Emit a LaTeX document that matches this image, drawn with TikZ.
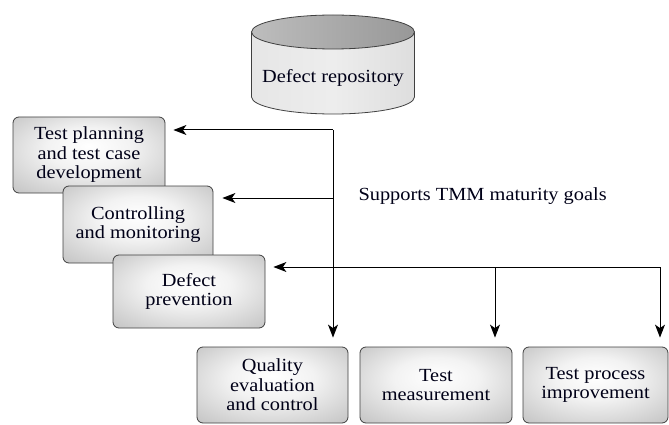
\documentclass[tikz,border=0pt]{standalone}
\usepackage{fontspec}
\setmainfont{Liberation Serif}[FakeStretch=1.1]
\usetikzlibrary{arrows.meta}

% soft glow used inside the process boxes: light centre, grey rim
\pgfdeclareradialshading{boxglow}{\pgfpoint{0bp}{6bp}}{%
  color(0bp)=(white); color(14bp)=(gray!10); color(30bp)=(gray!36);
  color(42bp)=(gray!55); color(50bp)=(gray!64)}
% top face of the repository: light on the left, dark on the right
\pgfdeclarehorizontalshading{lidshade}{100bp}{%
  color(0bp)=(gray!35); color(35bp)=(gray!58); color(100bp)=(gray!95)}
\pgfdeclarehorizontalshading{bodyshade}{100bp}{%
  color(0bp)=(gray!25); color(50bp)=(gray!14); color(100bp)=(gray!38)}

\tikzset{
  txt/.style={font=\fontsize{18.5}{19.5}\selectfont, text=black!85!blue!60!black},
  procbox/.style={txt, draw=black!75, line width=0.8pt, rounded corners=6pt,
    shading=boxglow, align=center, inner sep=2pt},
  link/.style={line width=1pt, -{Stealth[length=13pt,width=10pt,inset=3.5pt]}}
}

\begin{document}
\begin{tikzpicture}[x=1pt,y=1pt]
\useasboundingbox (0,0) rectangle (669,-425);

% defect repository (cylinder)
\path[shading=bodyshade, draw=black!75, line width=0.8pt]
  (251.5,-32) -- (251.5,-97) arc[start angle=180, end angle=360, x radius=81.5, y radius=17]
  -- (414.5,-32) -- cycle;
\path[shading=lidshade, draw=black!75, line width=0.8pt]
  (333,-32) ellipse[x radius=81.5, y radius=17];
\node[txt] (repo) at (333,-78) {Defect repository};

% left stack of process boxes
\node[procbox, minimum width=152pt, minimum height=76pt] (plan) at (89,-155)
  {Test planning\\and test case\\development};
\node[procbox, minimum width=150pt, minimum height=77pt] (ctrl) at (138,-224.5)
  {Controlling\\and monitoring};
\node[procbox, minimum width=152pt, minimum height=73pt] (prev) at (189,-291.5)
  {Defect\\prevention};

% bottom row of process boxes
\node[procbox, minimum width=151pt, minimum height=76pt] (qual) at (272.5,-385)
  {Quality\\evaluation\\and control};
\node[procbox, minimum width=152pt, minimum height=76pt] (meas) at (436,-385)
  {Test\\measurement};
\node[procbox, minimum width=145pt, minimum height=76pt] (impr) at (595.5,-385)
  {Test process\\improvement};

\node[txt, anchor=west] (goals) at (355,-196) {Supports TMM maturity goals};

% junction points on the connector trunks
\coordinate (j1) at (333,-130);
\coordinate (j2) at (333,-198);
\coordinate (j3) at (333,-267);
\coordinate (k2) at (495,-267);
\coordinate (k3) at (660,-267);

% connectors
\draw[link, shorten >=8pt] (j1) -- (j1 -| plan.east);
\draw[link, shorten >=9pt] (j2) -- (j2 -| ctrl.east);
\draw[link, shorten >=8pt] (k3) -- (k3 -| prev.east);
\draw[link, shorten >=9pt] (j1) -- (j1 |- qual.north);
\draw[link, shorten >=9pt] (k2) -- (k2 |- meas.north);
\draw[link, shorten >=9pt] (k3) -- (k3 |- impr.north);
\end{tikzpicture}
\end{document}
